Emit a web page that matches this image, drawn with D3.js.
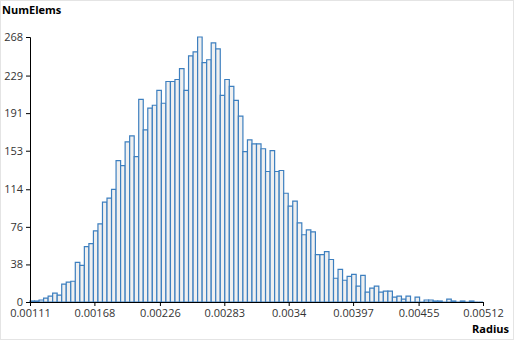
<!DOCTYPE html>
<html>
<head>
<meta charset="utf-8">
<script src="https://cdn.jsdelivr.net/npm/d3@7"></script>
<style>
  body { margin: 0; background: #fff; }
  #chart-container { width: 514px; height: 340px; }
  text { font-family: "Open Sans", "Noto Sans", sans-serif; }
</style>
</head>
<body>
<div id="chart-container"></div>
<script>
// histogram of radius values, 100 equal bins
const xMin = 0.00111;
const xMax = 0.00512;
const counts = [
  1, 1, 2, 4, 6, 9, 7, 18, 20, 21,
  40, 37, 56, 59, 72, 79, 101, 105, 114, 143,
  138, 162, 168, 147, 205, 174, 196, 199, 214, 201,
  223, 223, 225, 236, 214, 249, 253, 268, 242, 245,
  262, 256, 209, 225, 218, 204, 188, 152, 164, 160,
  160, 155, 132, 153, 132, 133, 110, 97, 102, 80,
  68, 73, 71, 48, 48, 51, 43, 24, 33, 22,
  26, 28, 16, 27, 10, 14, 16, 10, 11, 11,
  5, 6, 3, 6, 0, 5, 0, 2, 2, 1,
  1, 0, 3, 1, 0, 1, 0, 1, 0, 0
];
const xTickLabels = ["0.00111", "0.00168", "0.00226", "0.00283", "0.0034", "0.00397", "0.00455", "0.00512"];
const yTickLabels = ["0", "38", "76", "114", "153", "191", "229", "268"];

const margin = { top: 37, right: 31, bottom: 38, left: 30 };
const width = 514 - margin.left - margin.right;
const height = 340 - margin.top - margin.bottom;
const binW = (xMax - xMin) / counts.length;

const x = d3
    .scaleLinear()
    .range([0, width])
    .domain([xMin, xMax]);

const y = d3
    .scaleLinear()
    .range([height, 0])
    .domain([0, 268]);

const root = d3
    .select("#chart-container")
    .append("svg")
    .attr("width", 514)
    .attr("height", 340);

root.append("rect")
    .attr("x", 0.5).attr("y", 0.5)
    .attr("width", 513).attr("height", 339)
    .attr("fill", "none")
    .attr("stroke", "#e4e4e4");

const svg = root
    .append("g")
    .attr("transform", `translate(${margin.left},${margin.top})`);

// bars as closed paths so empty bins still show a line
svg.selectAll(".bar")
    .data(counts)
    .enter()
    .append("path")
    .attr("class", "bar")
    .attr("fill", "#f0f0f0")
    .attr("stroke", "#3d7fbf")
    .attr("stroke-width", 1.2)
    .attr("d", (d, i) => {
        const x0 = x(xMin + i * binW);
        const x1 = x(xMin + (i + 1) * binW);
        return `M${x0},${y(0)}V${y(d)}H${x1}V${y(0)}Z`;
    });

const xTicks = xTickLabels.map(Number);
const yTicks = yTickLabels.map(Number);

const xAxis = svg
    .append("g")
    .attr("transform", `translate(0,${height})`)
    .call(d3.axisBottom(x).tickValues(xTicks).tickFormat((d, i) => xTickLabels[i]).tickSizeOuter(0).tickSize(4));

const yAxis = svg
    .append("g")
    .call(d3.axisLeft(y).tickValues(yTicks).tickFormat((d, i) => yTickLabels[i]).tickSizeOuter(0).tickSize(4));

[xAxis, yAxis].forEach(a => {
    a.selectAll("text").style("font-size", "11px").style("fill", "#333");
    a.select(".domain").attr("stroke", "#000");
    a.selectAll(".tick line").attr("stroke", "#000");
});

root.append("text")
    .attr("x", 2)
    .attr("y", 14)
    .style("font-size", "11px")
    .style("font-weight", "bold")
    .style("fill", "#000")
    .text("NumElems");

root.append("text")
    .attr("x", 509)
    .attr("y", 333)
    .style("text-anchor", "end")
    .style("font-size", "11px")
    .style("font-weight", "bold")
    .style("fill", "#000")
    .text("Radius");
</script>
</body>
</html>
